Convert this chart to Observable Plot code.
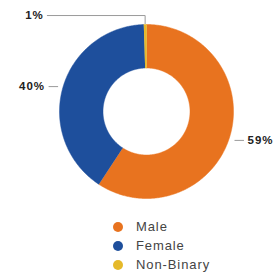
<!DOCTYPE html>
<html>
<head>
<meta charset="utf-8">
<script src="https://cdn.jsdelivr.net/npm/d3@7"></script>
<script src="https://cdn.jsdelivr.net/npm/@observablehq/plot@0.6"></script>
<style>
  html, body { margin: 0; padding: 0; background: #fff; width: 278px; height: 272px; overflow: hidden; }
  #chart svg { display: block; }
  #chart text { letter-spacing: 1px; }
  .legend { padding-left: 113px; margin-top: 5px; font-family: "Liberation Sans", Arial, sans-serif; font-size: 13px; letter-spacing: 0.9px; color: #444; }
  .legend .row { display: flex; align-items: center; height: 19px; line-height: 19px; }
  .legend .sw { width: 10px; height: 10px; border-radius: 50%; margin-right: 13px; flex: none; }
</style>
</head>
<body>
<div id="chart"></div>
<div class="legend" id="legend"></div>
<script>
const categories = ["Male", "Female", "Non-Binary"];
const values = [59.2, 40.3, 0.5];
const labels = ["59%", "40%", "1%"];
const colors = ["#E8731F", "#1E4F9C", "#E5B92A"];

const inner = 0.5;
const total = d3.sum(values);
let cum = 0;
const slices = categories.map((c, i) => {
  const a0 = cum / total * 2 * Math.PI;
  cum += values[i];
  const a1 = cum / total * 2 * Math.PI;
  return {cat: c, a0, a1, mid: (a0 + a1) / 2, label: labels[i]};
});

// ring polygon vertices (angle measured clockwise from 12 o'clock)
const pts = [];
for (const s of slices) {
  const n = Math.max(2, Math.ceil((s.a1 - s.a0) / 0.01));
  for (let k = 0; k <= n; k++) {
    const a = s.a0 + (s.a1 - s.a0) * k / n;
    pts.push({cat: s.cat, x: Math.sin(a), y: Math.cos(a)});
  }
  for (let k = n; k >= 0; k--) {
    const a = s.a0 + (s.a1 - s.a0) * k / n;
    pts.push({cat: s.cat, x: inner * Math.sin(a), y: inner * Math.cos(a)});
  }
}

// leader lines and labels
const leaders = [];
const textsStart = [];
const textsEnd = [];
slices.forEach(s => {
  const dx = Math.sin(s.mid), dy = Math.cos(s.mid);
  if (s.cat === "Non-Binary") {
    leaders.push({id: s.cat, x: dx, y: dy * 1.01});
    leaders.push({id: s.cat, x: dx, y: 1.103});
    leaders.push({id: s.cat, x: -1.14, y: 1.103});
    textsEnd.push({x: -1.18, y: 1.103, label: s.label});
  } else {
    const side = dx > 0 ? 1 : -1;
    const y = dy * 1.06 - (side > 0 ? 0.03 : 0);
    const x0 = dx * 1.06;
    leaders.push({id: s.cat, x: x0, y});
    leaders.push({id: s.cat, x: x0 + side * 0.1, y});
    (side > 0 ? textsStart : textsEnd).push({x: x0 + side * 0.145, y, label: s.label});
  }
});

const cx = 146, cy = 111, R = 87;
const font = "Liberation Sans, Arial, sans-serif";
const plot = Plot.plot({
  width: 278,
  height: 212,
  margin: 0,
  x: {domain: [-1, 1], range: [cx - R, cx + R], axis: null},
  y: {domain: [-1, 1], range: [cy + R, cy - R], axis: null},
  color: {domain: categories, range: colors},
  marks: [
    Plot.line(pts, {x: "x", y: "y", z: "cat", fill: "cat", stroke: "cat", strokeWidth: 0.5, curve: "linear"}),
    Plot.line(leaders, {x: "x", y: "y", z: "id", stroke: "#9a9a9a", strokeWidth: 1}),
    Plot.text(textsStart, {x: "x", y: "y", text: "label", textAnchor: "start", fontSize: 11.5, fontWeight: "bold", fill: "#222", fontFamily: font}),
    Plot.text(textsEnd, {x: "x", y: "y", text: "label", textAnchor: "end", fontSize: 11.5, fontWeight: "bold", fill: "#222", fontFamily: font})
  ]
});
document.getElementById("chart").appendChild(plot);

const lg = document.getElementById("legend");
categories.forEach((c, i) => {
  const row = document.createElement("div");
  row.className = "row";
  const sw = document.createElement("span");
  sw.className = "sw";
  sw.style.background = colors[i];
  const t = document.createElement("span");
  t.textContent = c;
  row.appendChild(sw);
  row.appendChild(t);
  lg.appendChild(row);
});
</script>
</body>
</html>
